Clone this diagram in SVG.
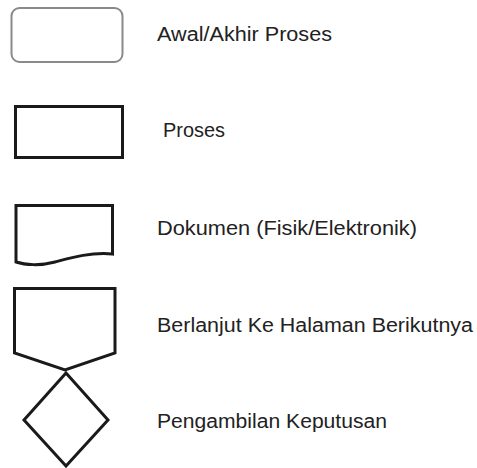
<svg xmlns="http://www.w3.org/2000/svg" width="477" height="468" viewBox="0 0 477 468">
<style>
.s{fill:#fff;stroke:#1a1a1a;stroke-width:3;stroke-linejoin:miter}
.t{font-family:"Liberation Sans",Arial,sans-serif;font-size:19.5px;fill:#222}
</style>
<rect width="477" height="468" fill="#fff"/>
<g id="awal-akhir"><rect x="11.5" y="8" width="111" height="54" rx="8" fill="#fff" stroke="#8a8a8a" stroke-width="2"/></g>
<g id="proses"><rect class="s" x="15.5" y="106.5" width="107" height="51"/></g>
<g id="dokumen"><path class="s" d="M16,205.5 H112.5 V254 C90,252 70,258 55,262 C40,266 25,265 16,262 Z"/></g>
<g id="berlanjut"><path class="s" d="M14.5,288.5 H115 V353 L65,370 L14.5,353 Z"/></g>
<g id="keputusan"><path class="s" stroke-width="2.6" d="M66,373 L108,420 L66,466 L24,420 Z"/></g>
<g id="labels">
<text class="t" x="157" y="41" textLength="175" lengthAdjust="spacingAndGlyphs">Awal/Akhir Proses</text>
<text class="t" x="163" y="137" textLength="62" lengthAdjust="spacingAndGlyphs">Proses</text>
<text class="t" x="157" y="235" textLength="260" lengthAdjust="spacingAndGlyphs">Dokumen (Fisik/Elektronik)</text>
<text class="t" x="157" y="332" textLength="316" lengthAdjust="spacingAndGlyphs">Berlanjut Ke Halaman Berikutnya</text>
<text class="t" x="157" y="428" textLength="230" lengthAdjust="spacingAndGlyphs">Pengambilan Keputusan</text>
</g>
</svg>
